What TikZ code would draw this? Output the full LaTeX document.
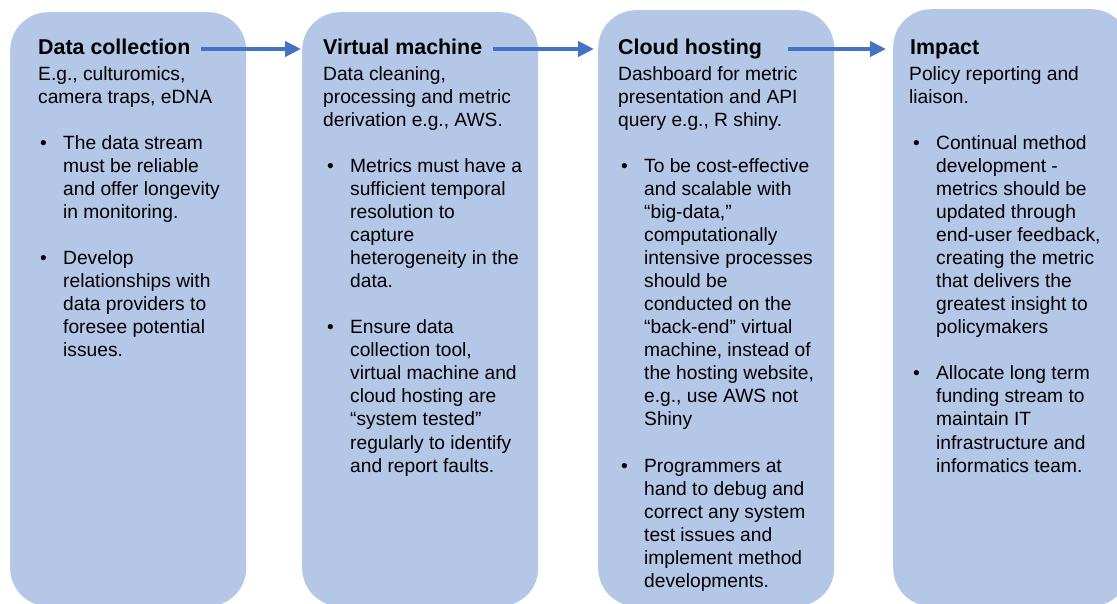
\documentclass[tikz,border=0pt]{standalone}
\usepackage{fontspec}
\setmainfont{Liberation Sans}
\usetikzlibrary{arrows.meta}

\definecolor{boxblue}{HTML}{B4C7E7}
\definecolor{arrowblue}{HTML}{4472C4}

\tikzset{
  stage/.style={fill=boxblue, rounded corners=38pt, minimum width=236pt, anchor=north west, inner sep=0pt},
  heading/.style={font=\fontsize{21.4}{25}\selectfont\bfseries, anchor=base west, inner sep=0pt},
  body/.style={font=\fontsize{19.2}{23.05}\selectfont, align=left, anchor=north west, inner sep=0pt},
  flow/.style={draw=arrowblue, line width=4pt, -{Triangle[length=16pt,width=15pt]}}
}

\newcommand{\rowtop}{63.9}
\newcommand{\rowh}{23.05}
\newcommand{\bul}{\llap{\textbullet\hspace{16.3pt}}}

\begin{document}
\begin{tikzpicture}[x=1pt,y=-1pt]

  \useasboundingbox (0,0) rectangle (1117,604);
  \clip (0,0) rectangle (1117,604);
  \fill[white] (0,0) rectangle (1117,604);

  % ***************** STAGES *****************
  \node[stage, minimum height=594pt] (b1) at (10,12) {};
  \node[stage, minimum height=594pt] (b2) at (302,12) {};
  \node[stage, minimum height=596pt] (b3) at (598,10) {};
  \node[stage, minimum height=597pt] (b4) at (893,9) {};

  % ***************** DATA COLLECTION *****************
  \node[heading] (t1) at (38,55) {Data collection};
  \node[body] (s1) at (38,{\rowtop}) {\strut E.g., culturomics,\\camera traps, eDNA};
  \node[body] (p1a) at (63,{\rowtop+3*\rowh}) {\strut\bul The data stream\\must be reliable\\and offer longevity\\in monitoring.};
  \node[body] (p1b) at (63,{\rowtop+8*\rowh}) {\strut\bul Develop\\relationships with\\data providers to\\foresee potential\\issues.};

  % ***************** VIRTUAL MACHINE *****************
  \node[heading] (t2) at (323,55) {Virtual machine};
  \node[body] (s2) at (323,{\rowtop}) {\strut Data cleaning,\\processing and metric\\derivation e.g., AWS.};
  \node[body] (p2a) at (350,{\rowtop+4*\rowh}) {\strut\bul Metrics must have a\\sufficient temporal\\resolution to\\capture\\heterogeneity in the\\data.};
  \node[body] (p2b) at (350,{\rowtop+11*\rowh}) {\strut\bul Ensure data\\collection tool,\\virtual machine and\\cloud hosting are\\“system tested”\\regularly to identify\\and report faults.};

  % ***************** CLOUD HOSTING *****************
  \node[heading] (t3) at (618,55) {Cloud hosting};
  \node[body] (s3) at (618,{\rowtop}) {\strut Dashboard for metric\\presentation and API\\query e.g., R shiny.};
  \node[body] (p3a) at (644,{\rowtop+4*\rowh}) {\strut\bul To be cost-effective\\and scalable with\\“big-data,”\\computationally\\intensive processes\\should be\\conducted on the\\“back-end” virtual\\machine, instead of\\the hosting website,\\e.g., use AWS not\\Shiny};
  \node[body] (p3b) at (644,{\rowtop+17*\rowh}) {\strut\bul Programmers at\\hand to debug and\\correct any system\\test issues and\\implement method\\developments.};

  % ***************** IMPACT *****************
  \node[heading] (t4) at (910,55) {Impact};
  \node[body] (s4) at (909,{\rowtop}) {\strut Policy reporting and\\liaison.};
  \node[body] (p4a) at (936,{\rowtop+3*\rowh}) {\strut\bul Continual method\\development -\\metrics should be\\updated through\\end-user feedback,\\creating the metric\\that delivers the\\greatest insight to\\policymakers};
  \node[body] (p4b) at (936,{\rowtop+13*\rowh}) {\strut\bul Allocate long term\\funding stream to\\maintain IT\\infrastructure and\\informatics team.};

  % ***************** ARROWS *****************
  \draw[flow] ([xshift=-45pt,yshift=6pt]b1.east |- t1.base) -- ([xshift=-1pt,yshift=6pt]b2.west |- t1.base);
  \draw[flow] ([xshift=-45pt,yshift=6pt]b2.east |- t2.base) -- ([xshift=-4pt,yshift=6pt]b3.west |- t2.base);
  \draw[flow] ([xshift=-46pt,yshift=6pt]b3.east |- t1.base) -- ([xshift=-7pt,yshift=6pt]b4.west |- t1.base);

\end{tikzpicture}
\end{document}
